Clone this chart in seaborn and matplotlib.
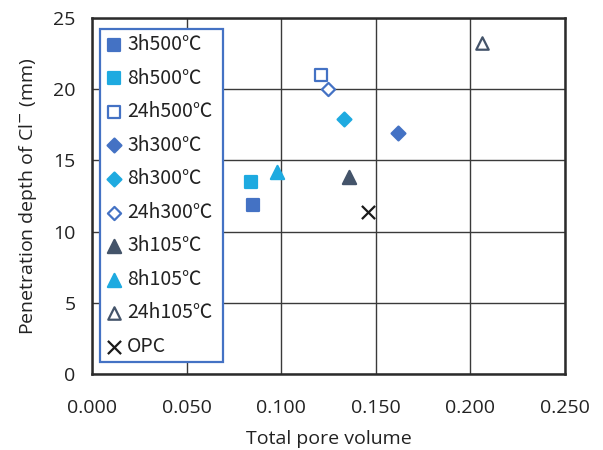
import matplotlib
matplotlib.use("Agg")
import matplotlib.pyplot as plt
from matplotlib.font_manager import FontProperties
import seaborn as sns
import pandas as pd

# Series labels, total pore volume and chloride penetration depth
labels = ["3h500℃", "8h500℃", "24h500℃", "3h300℃", "8h300℃",
          "24h300℃", "3h105℃", "8h105℃", "24h105℃", "OPC"]
pore_volume = [0.085, 0.084, 0.121, 0.162, 0.133, 0.125, 0.136, 0.098, 0.206, 0.146]
depth_mm = [11.9, 13.5, 21.0, 16.9, 17.9, 20.0, 13.8, 14.2, 23.2, 11.4]

x_ticks = [0.000, 0.050, 0.100, 0.150, 0.200, 0.250]
y_ticks = [0, 5, 10, 15, 20, 25]

DARK_BLUE = "#4472C4"
LIGHT_BLUE = "#1EAAE0"
SLATE = "#44546A"
TEXT = "#222222"

styles = [
    dict(marker="s", face=DARK_BLUE, edge=DARK_BLUE, s=80),
    dict(marker="s", face=LIGHT_BLUE, edge=LIGHT_BLUE, s=80),
    dict(marker="s", face="white", edge=DARK_BLUE, s=75),
    dict(marker="D", face=DARK_BLUE, edge=DARK_BLUE, s=50),
    dict(marker="D", face=LIGHT_BLUE, edge=LIGHT_BLUE, s=50),
    dict(marker="D", face="white", edge=DARK_BLUE, s=45),
    dict(marker="^", face=SLATE, edge=SLATE, s=90),
    dict(marker="^", face=LIGHT_BLUE, edge=LIGHT_BLUE, s=90),
    dict(marker="^", face="white", edge=SLATE, s=80),
    dict(marker="x", face="#1a1a1a", edge="#1a1a1a", s=90),
]

df = pd.DataFrame({"label": labels, "x": pore_volume, "y": depth_mm})

sns.set_theme(style="white")
plt.rcParams["font.family"] = ["Open Sans", "Noto Sans CJK JP", "DejaVu Sans"]

fig = plt.figure(figsize=(6.03, 4.5), dpi=100)
ax = fig.add_axes([92.3 / 603, 1 - 374.3 / 450, 472.4 / 603, 356.6 / 450])

for i, row in df.iterrows():
    st = styles[i]
    if st["marker"] == "x":
        sns.scatterplot(x=[row.x], y=[row.y], ax=ax, marker="x", s=st["s"],
                        color=st["edge"], linewidth=1.6, label=row.label, zorder=3)
    else:
        sns.scatterplot(x=[row.x], y=[row.y], ax=ax, marker=st["marker"], s=st["s"],
                        facecolor=st["face"], edgecolor=st["edge"], linewidth=1.6,
                        label=row.label, zorder=3)

ax.set_xlim(0, 0.25)
ax.set_ylim(0, 25)
ax.set_xticks(x_ticks)
ax.set_yticks(y_ticks)
ax.set_xticklabels([f"{v:.3f}" for v in x_ticks])
ax.set_yticklabels([str(v) for v in y_ticks])
ax.tick_params(axis="x", labelsize=14, colors=TEXT, length=0, pad=18)
ax.tick_params(axis="y", labelsize=14, colors=TEXT, length=0, pad=12)

ax.grid(True, color="#3a3a3a", linewidth=1.0)
ax.set_axisbelow(True)
for sp in ax.spines.values():
    sp.set_color("#2b2b2b")
    sp.set_linewidth(1.8)

ax.set_xlabel("Total pore volume", fontsize=14, color=TEXT, labelpad=9)
ax.set_ylabel("Penetration depth of Cl$^{-}$ (mm)", fontsize=14, color=TEXT, labelpad=10)

# Legend box stretched horizontally to a fixed width inside the axes
legend_font = FontProperties(family=["Noto Sans CJK JP", "DejaVu Sans"], size=14)
leg = ax.legend(loc="upper left", bbox_to_anchor=(0.016, 0.0, 0.26, 0.968),
                mode="expand", prop=legend_font,
                frameon=True, fancybox=False, borderpad=0.25, labelspacing=0.645,
                handletextpad=0.15, handlelength=1.0, borderaxespad=0)
frame = leg.get_frame()
frame.set_edgecolor(DARK_BLUE)
frame.set_linewidth(1.6)
frame.set_facecolor("white")
frame.set_alpha(1)
for t in leg.get_texts():
    t.set_color(TEXT)

fig.savefig("out.png", dpi=100)
